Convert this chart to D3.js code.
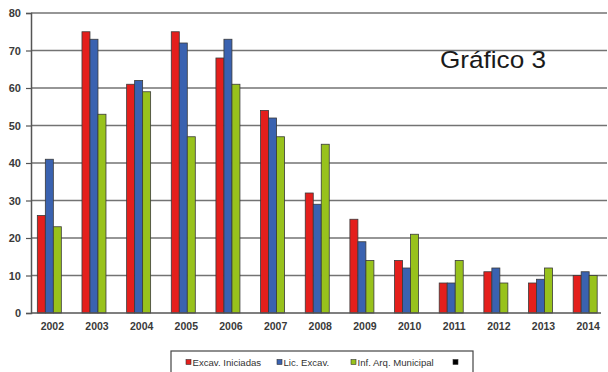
<!DOCTYPE html>
<html>
<head>
<meta charset="utf-8">
<script src="https://cdn.jsdelivr.net/npm/d3@7"></script>
<style>
  html, body { margin: 0; padding: 0; background: #fff; }
  svg { display: block; font-family: "Liberation Sans", Arial, sans-serif; }
</style>
</head>
<body>
<svg id="chart" width="608" height="372"></svg>
<script>
// Years on the category axis
const years = ["2002","2003","2004","2005","2006","2007","2008","2009","2010","2011","2012","2013","2014"];
// Series values per year
const excavIniciadas = [26, 75, 61, 75, 68, 54, 32, 25, 14, 8, 11, 8, 10];
const licExcav       = [41, 73, 62, 72, 73, 52, 29, 19, 12, 8, 12, 9, 11];
const infArqMunicipal = [23, 53, 59, 47, 61, 47, 45, 14, 21, 14, 8, 12, 10];
const seriesNames = ["Excav. Iniciadas", "Lic. Excav.", "Inf. Arq. Municipal"];
const yTicks = [0, 10, 20, 30, 40, 50, 60, 70, 80];

const colors = ["#e41f1c", "#3a62b0", "#98c21c"];
const series = [excavIniciadas, licExcav, infArqMunicipal];

const svg = d3.select("#chart");
const plotLeft = 31, plotTop = 13, plotBottom = 313, plotRight = 607;

const y = d3.scaleLinear().domain([0, 80]).range([plotBottom, plotTop]);
const x = d3.scaleBand().domain(years).range([27, 607.5]).padding(0);
const barW = 8;
const sub = d3.scaleBand().domain(d3.range(series.length))
  .range([-barW * 1.5, barW * 1.5]);

// Horizontal gridlines
svg.append("g").selectAll("line").data(yTicks.filter(d => d > 0)).join("line")
  .attr("x1", plotLeft).attr("x2", plotRight)
  .attr("y1", d => y(d)).attr("y2", d => y(d))
  .attr("stroke", "#737373").attr("stroke-width", 1.6);

// Bars
const groups = svg.append("g").selectAll("g").data(years).join("g")
  .attr("transform", d => `translate(${x(d) + x.bandwidth() / 2},0)`);
groups.each(function(yr, i) {
  d3.select(this).selectAll("rect")
    .data(series.map((s, k) => ({ k, v: s[i] })))
    .join("rect")
    .attr("x", d => sub(d.k))
    .attr("width", sub.bandwidth())
    .attr("y", d => y(d.v))
    .attr("height", d => y(0) - y(d.v))
    .attr("fill", d => colors[d.k])
    .attr("stroke", "#3a3a3a")
    .attr("stroke-width", 0.8);
});

// Y axis
const yAxis = svg.append("g").attr("transform", `translate(${plotLeft},0)`)
  .call(d3.axisLeft(y).tickValues(yTicks).tickSize(5).tickPadding(5));
yAxis.select(".domain").attr("stroke", "#555").attr("stroke-width", 1.5);
yAxis.selectAll(".tick line").attr("stroke", "#555").attr("stroke-width", 1.2);
yAxis.selectAll("text").attr("fill", "#3a3a3a").attr("font-size", 11)
  .attr("font-weight", "bold").attr("font-family", "Liberation Sans, Arial, sans-serif");

// X axis baseline and year labels
const xAxis = svg.append("g").attr("transform", `translate(0,${plotBottom})`)
  .call(d3.axisBottom(x).tickSize(0).tickPadding(10));
xAxis.select(".domain").attr("d", `M${plotLeft},0H${plotRight - 6}`)
  .attr("stroke", "#555").attr("stroke-width", 1.6);
xAxis.selectAll("text").attr("fill", "#3a3a3a").attr("font-size", 10.5)
  .attr("font-weight", "bold").attr("dx", 3)
  .attr("font-family", "Liberation Sans, Arial, sans-serif");

// Title
svg.append("text").attr("x", 440).attr("y", 67.5)
  .attr("font-size", 24.5).attr("fill", "#1a1a1a")
  .attr("textLength", 106).attr("lengthAdjust", "spacingAndGlyphs")
  .text("Gráfico 3");

// Legend
const legend = svg.append("g");
legend.append("rect").attr("x", 171).attr("y", 351).attr("width", 302).attr("height", 30)
  .attr("fill", "#fff").attr("stroke", "#444").attr("stroke-width", 1.2);
const legendItems = [
  { name: seriesNames[0], color: colors[0], x: 186 },
  { name: seriesNames[1], color: colors[1], x: 277 },
  { name: seriesNames[2], color: colors[2], x: 351 },
  { name: "", color: "#000", x: 453 }
];
const li = legend.selectAll("g.item").data(legendItems).join("g")
  .attr("class", "item").attr("transform", d => `translate(${d.x},362)`);
li.append("rect").attr("x", 0).attr("y", -2.5).attr("width", 5).attr("height", 5)
  .attr("fill", d => d.color).attr("stroke", "#333").attr("stroke-width", 0.6);
li.append("text").attr("x", 6.5).attr("y", 3.5)
  .attr("font-size", 9.6).attr("fill", "#333")
  .text(d => d.name);
</script>
</body>
</html>
